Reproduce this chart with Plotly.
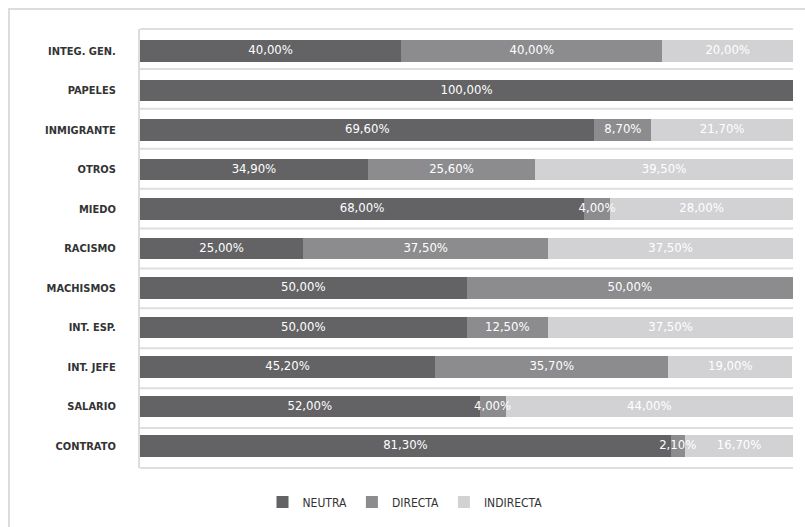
import plotly.graph_objects as go

categories = ["INTEG. GEN.", "PAPELES", "INMIGRANTE", "OTROS", "MIEDO", "RACISMO",
              "MACHISMOS", "INT. ESP.", "INT. JEFE", "SALARIO", "CONTRATO"]
neutra = [40.0, 100.0, 69.6, 34.9, 68.0, 25.0, 50.0, 50.0, 45.2, 52.0, 81.3]
directa = [40.0, 0.0, 8.7, 25.6, 4.0, 37.5, 50.0, 12.5, 35.7, 4.0, 2.1]
indirecta = [20.0, 0.0, 21.7, 39.5, 28.0, 37.5, 0.0, 37.5, 19.0, 44.0, 16.7]

series_names = ["NEUTRA", "DIRECTA", "INDIRECTA"]
series_values = [neutra, directa, indirecta]
colors = ["#636365", "#8c8c8e", "#d2d2d4"]

FONT = "DejaVu Sans Condensed, Liberation Sans Narrow, Arial Narrow, sans-serif"

fig = go.Figure()
for name, vals, col in zip(series_names, series_values, colors):
    fig.add_trace(go.Bar(
        y=categories, x=vals, name=name, orientation="h",
        marker=dict(color=col, line=dict(width=0)),
        hoverinfo="skip",
    ))

# labels on top of all bars (centered in each segment)
starts = [0.0] * len(categories)
for vals in series_values:
    xs, ys, ts = [], [], []
    for i, v in enumerate(vals):
        if v > 0:
            xs.append(starts[i] + v / 2)
            ys.append(categories[i])
            ts.append(f"{v:.2f}%".replace(".", ","))
        starts[i] += v
    fig.add_trace(go.Scatter(
        x=xs, y=ys, text=ts, mode="text", showlegend=False, hoverinfo="skip",
        textfont=dict(family=FONT, size=13, color="#ffffff"),
        textposition="middle center",
    ))

L, R, T, B = 140, 12, 29, 58
W, H = 805, 527
pw, ph = W - L - R, H - T - B

GRID = "#dedede"
shapes = [dict(type="rect", xref="paper", yref="paper",
               x0=(9 - L) / pw, x1=1.2, y0=-0.5, y1=1 + (T - 9) / ph,
               line=dict(color="#dcdcdc", width=2), fillcolor="rgba(0,0,0,0)",
               layer="below")]
# row separators at category boundaries (paper coords derived from category count)
n = len(categories)
for k in range(n + 1):
    yk = 1 - k / n
    shapes.append(dict(type="line", xref="paper", yref="paper", x0=0, x1=1,
                       y0=yk, y1=yk,
                       line=dict(color=GRID, width=2), layer="above"))

fig.update_layout(
    width=W, height=H,
    margin=dict(l=L, r=R, t=T, b=B),
    barmode="stack", bargap=0.45,
    plot_bgcolor="rgba(0,0,0,0)", paper_bgcolor="#ffffff",
    font=dict(family=FONT, color="#333333"),
    xaxis=dict(range=[0, 100], visible=False, fixedrange=True),
    yaxis=dict(
        autorange="reversed", type="category", fixedrange=True,
        ticks="", showgrid=False,
        showline=True, linecolor="#dcdcdc", linewidth=2,
        tickfont=dict(family=FONT, size=11, color="#333333", weight="bold"),
        ticklabelstandoff=20,
    ),
    legend=dict(
        orientation="h", traceorder="normal",
        x=(405 - L) / pw, xanchor="center",
        y=-(502 - (T + ph)) / ph, yanchor="middle",
        font=dict(family=FONT, size=12, color="#333333"),
        itemclick=False, itemdoubleclick=False,
    ),
    shapes=shapes,
)

fig.write_html("out.html", config={"displayModeBar": False},
               post_script="document.body.style.margin='0';")
